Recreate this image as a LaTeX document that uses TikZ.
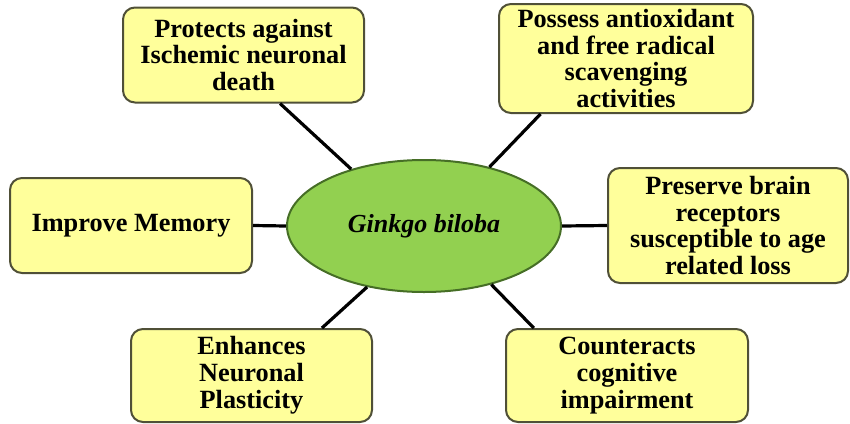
\documentclass[tikz,border=0pt]{standalone}
\usepackage{fontspec}
\setmainfont{Liberation Serif}
\usetikzlibrary{shapes.geometric}
\definecolor{boxfill}{RGB}{255,255,155}
\definecolor{boxline}{RGB}{80,80,55}
\definecolor{ellfill}{RGB}{146,208,80}
\definecolor{ellline}{RGB}{70,110,38}
\tikzset{
  effect/.style={draw=boxline, line width=2pt, fill=boxfill, rounded corners=12pt,
    align=center, inner sep=0pt, font=\fontsize{26.3}{26.8}\selectfont\bfseries},
  hub/.style={ellipse, draw=ellline, line width=2pt, fill=ellfill, inner sep=0pt,
    minimum width=274pt, minimum height=132pt, font=\fontsize{26}{27}\selectfont\bfseries\itshape},
  link/.style={line width=3.2pt, black}
}
\begin{document}
\begin{tikzpicture}[x=1pt,y=-1pt]
\useasboundingbox (0,0) rectangle (850,423);
\node[hub] (gink) at (424,226) {Ginkgo biloba};
\node[effect, minimum width=241pt, minimum height=95pt] (prot) at (243.5,55)
  {Protects against\\Ischemic neuronal\\death};
\node[effect, minimum width=242pt, minimum height=95pt] (impr) at (131,225.5)
  {Improve Memory};
\node[effect, minimum width=241pt, minimum height=93pt] (enh) at (251.5,375.5)
  {Enhances\\Neuronal\\Plasticity};
\node[effect, minimum width=254pt, minimum height=109pt] (poss) at (626,58.5)
  {Possess antioxidant\\and free radical\\scavenging\\activities};
\node[effect, minimum width=240pt, minimum height=115pt] (pres) at (728,225.5)
  {Preserve brain\\receptors\\susceptible to age\\related loss};
\node[effect, minimum width=242pt, minimum height=93pt] (coun) at (627,375.5)
  {Counteracts\\cognitive\\impairment};
\draw[link] (prot.307) -- (gink.142);
\draw[link] (poss.213) -- (gink.42);
\draw[link] (impr.east) -- (gink.west);
\draw[link] (gink.east) -- (pres.west);
\draw[link] (gink.227) -- (enh.34);
\draw[link] (gink.319) -- (coun.153);
\end{tikzpicture}
\end{document}
